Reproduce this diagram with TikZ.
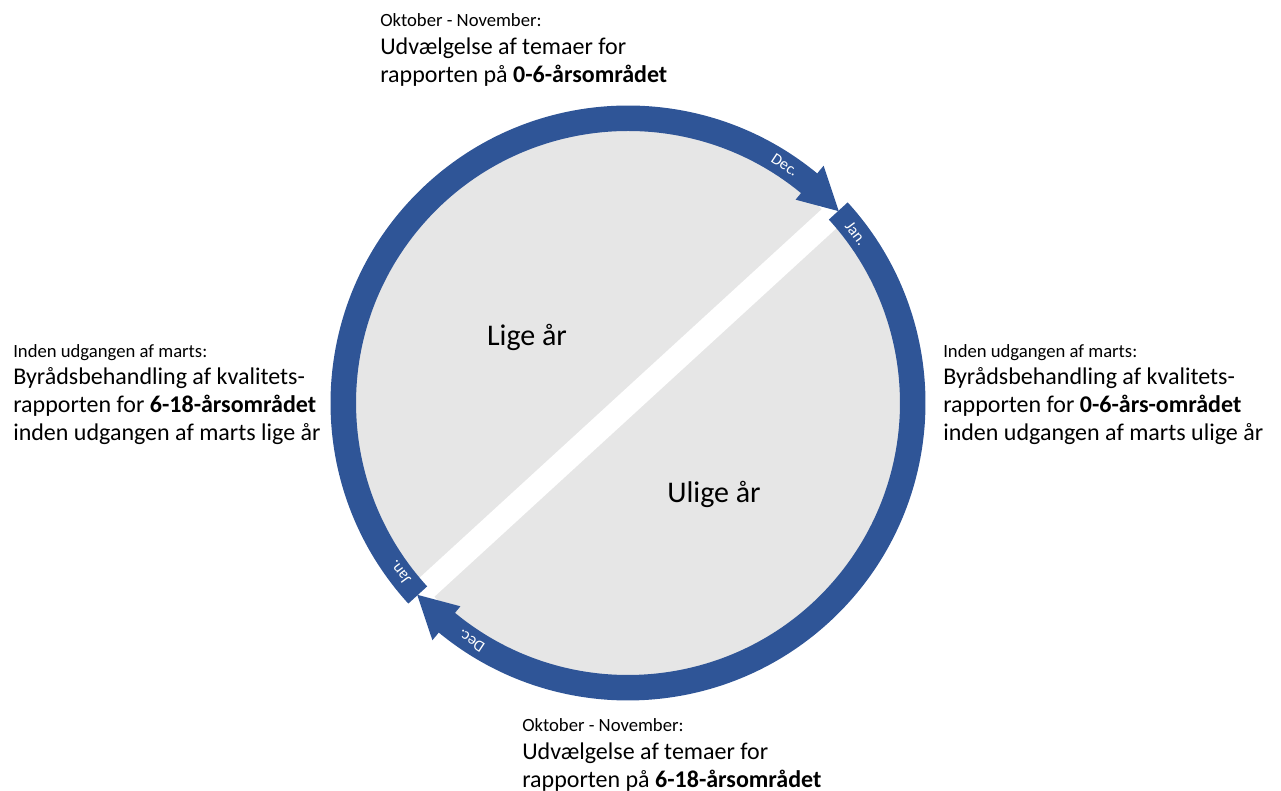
\documentclass[tikz,border=0pt]{standalone}
\usepackage{fontspec}
\setmainfont{Carlito}
\definecolor{ringblue}{HTML}{2F5597}
\definecolor{diskgray}{HTML}{E6E6E6}

\begin{document}
\begin{tikzpicture}
        [x=0.75pt, y=0.75pt,
        ring/.style={fill=ringblue, draw=none},
        month/.style={white, inner sep=0pt, font=\fontsize{12}{14}\selectfont},
        head/.style={anchor=base west, inner sep=0pt, font=\fontsize{14}{17}\selectfont},
        body/.style={anchor=base west, inner sep=0pt, font=\fontsize{18}{21}\selectfont},
        year/.style={inner sep=0pt, font=\fontsize{22.5}{27}\selectfont}]

        \useasboundingbox (0,0) rectangle (1281,791);

        \begin{scope}[shift={(628,388)}]
        % grey disk and the white band between the two years
        \fill[diskgray] (0,0) circle (274);
        \fill[white, rotate=42.5] (-290,-12) rectangle (290,12);

        % ring: even years (left half), ends in arrow at the top right
        \fill[ring] (222.4:297.5) arc[start angle=222.4, end angle=50.5, radius=297.5]
            -- (50.5:307.5) -- (42.3:285) -- (50.5:263.5) -- (50.5:272)
            arc[start angle=50.5, end angle=222.4, radius=272] -- cycle;
        % ring: odd years (right half), ends in arrow at the bottom left
        \fill[ring] (42.4:297.5) arc[start angle=42.4, end angle=-129.5, radius=297.5]
            -- (-129.5:307.5) -- (-137.7:285) -- (-129.5:263.5) -- (-129.5:272)
            arc[start angle=-129.5, end angle=42.4, radius=272] -- cycle;

        % month labels on the ring
        \node[month, rotate=-33.4] (dec1) at (56.6:285) {Dec.};
        \node[month, rotate=-53.4] (jan1) at (36.6:284) {Jan.};
        \node[month, rotate=146.6] (dec2) at (236.6:285) {Dec.};
        \node[month, rotate=126.6] (jan2) at (216.6:284) {Jan.};
        \end{scope}

        % years
        \node[year] (lige) at (527,454) {Lige år};
        \node[year] (ulige) at (714,297) {Ulige år};

        % top text
        \node[head] (tophead) at (380,764.3) {Oktober - November:};
        \node[body] (top1) at (380,736) {Udvælgelse af temaer for};
        \node[body] (top2) at (380,708) {rapporten på \textbf{0-6-årsområdet}};

        % left text
        \node[head] (lefthead) at (13,433.7) {Inden udgangen af marts:};
        \node[body] (left1) at (13,406) {Byrådsbehandling af kvalitets-};
        \node[body] (left2) at (13,378) {rapporten for \textbf{6-18-årsområdet}};
        \node[body] (left3) at (13,350) {inden udgangen af marts lige år};

        % right text
        \node[head] (righthead) at (943,433.7) {Inden udgangen af marts:};
        \node[body] (right1) at (943,406) {Byrådsbehandling af kvalitets-};
        \node[body] (right2) at (943,378) {rapporten for \textbf{0-6-års-området}};
        \node[body] (right3) at (943,350) {inden udgangen af marts ulige år};

        % bottom text
        \node[head] (bothead) at (522,59.3) {Oktober - November:};
        \node[body] (bot1) at (522,31.7) {Udvælgelse af temaer for};
        \node[body] (bot2) at (522,3.7) {rapporten på \textbf{6-18-årsområdet}};

\end{tikzpicture}
\end{document}
